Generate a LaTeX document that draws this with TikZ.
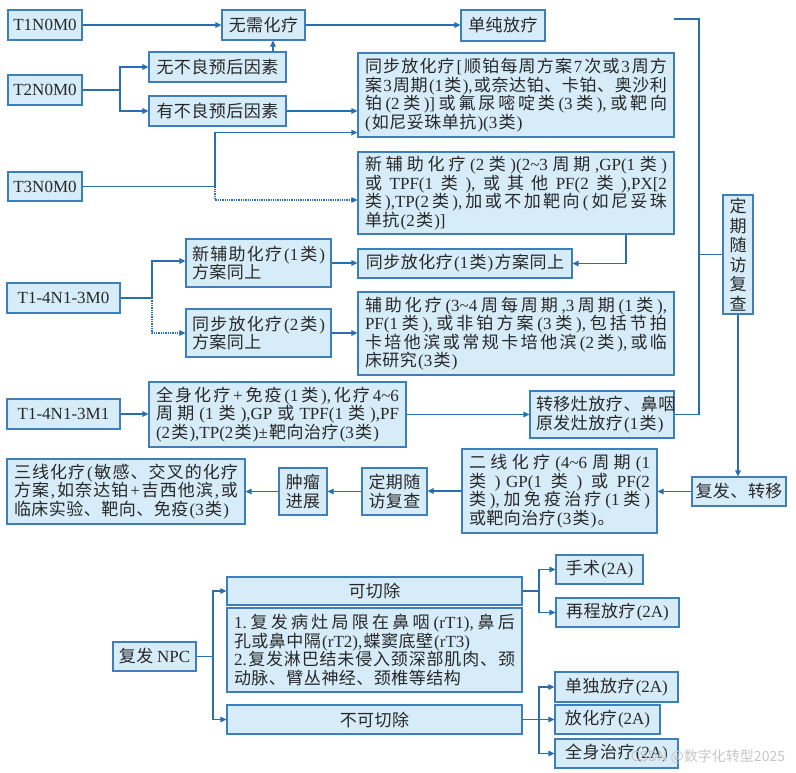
\documentclass[tikz,border=0pt]{standalone}
\usepackage{fontspec}
\setmainfont{Liberation Serif}
\newfontfamily\cjk{Noto Sans CJK SC}
\usetikzlibrary{arrows.meta,calc}
\definecolor{bfill}{RGB}{214,236,249}
\definecolor{bdraw}{RGB}{62,126,186}
\definecolor{lcol}{RGB}{40,110,176}
\definecolor{tcol}{RGB}{40,40,40}
\newXeTeXintercharclass\cjkclass
\newcount\cjkcnt
\newcommand\setcjkrange[2]{%
  \cjkcnt=#1\relax
  \loop
    \XeTeXcharclass\cjkcnt=\cjkclass
  \ifnum\cjkcnt<#2\relax
    \advance\cjkcnt by 1
  \repeat}
\setcjkrange{"4E00}{"9FFF}
\setcjkrange{"3000}{"303F}
\setcjkrange{"FF00}{"FFEF}
\XeTeXinterchartokenstate=1
\XeTeXinterchartoks \cjkclass \cjkclass = {\hskip0.5pt plus 3pt}
\XeTeXinterchartoks 0 \cjkclass = {\hskip1.2pt plus 3pt\cjk}
\XeTeXinterchartoks \cjkclass 0 = {\rmfamily\hskip1.2pt plus 3pt}
\XeTeXinterchartoks 4095 0 = {\rmfamily}
\XeTeXinterchartoks 4095 \cjkclass = {\cjk}
\newcommand\bxfont{\fontsize{17}{18.5}\selectfont\cjk}
\newcommand\vfont{\fontsize{17}{19.5}\selectfont\cjk}
\newcommand\jl[1]{\makebox[\hsize][s]{#1}}
\tikzset{
  box/.style 2 args={draw=bdraw, fill=bfill, line width=1.2pt, minimum width=#1, minimum height=#2, inner sep=0pt, text=tcol, font=\bxfont},
  ln/.style={draw=lcol, line width=1.3pt},
  arr/.style={ln, -{Triangle[length=6pt,width=5.5pt]}},
}
\begin{document}
\begin{tikzpicture}[x=1pt,y=-1pt]
\useasboundingbox (0,0) rectangle (796,773);
% top block
\node[box={74pt}{30pt}] (t1) at (45,25) {T1N0M0};
\node[box={83pt}{30pt}] (wx) at (263.5,25) {无需化疗};
\node[box={84pt}{31pt}] (dc) at (503,25.5) {单纯放疗};
\node[box={74pt}{30pt}] (t2) at (45,90) {T2N0M0};
\node[box={137pt}{30pt}] (wb) at (217.5,67) {无不良预后因素};
\node[box={137pt}{30pt}] (yb) at (217.5,111) {有不良预后因素};
\node[box={316pt}{84pt},text width=302pt,align=left] (tb) at (516,95) {\jl{同步放化疗[顺铂每周方案7次或3周方}\\\jl{案3周期(1类),或奈达铂、卡铂、奥沙利}\\\jl{铂(2类)]或氟尿嘧啶类(3类),或靶向}\\(如尼妥珠单抗)(3类)};
\node[box={74pt}{29pt}] (t3) at (45,186.5) {T3N0M0};
\node[box={316pt}{82pt},text width=302pt,align=left] (xf2) at (516,193) {\jl{新辅助化疗(2类)(2\textasciitilde3周期,GP(1类)}\\\jl{或TPF(1类),或其他PF(2类),PX[2}\\\jl{类),TP(2类),加或不加靶向(如尼妥珠}\\单抗(2类)]};
\node[box={145pt}{48pt},text width=133pt,align=left] (xf1) at (258.5,263) {\jl{新辅助化疗(1类)}\\方案同上};
\node[box={214pt}{29pt}] (tb1) at (465,263.5) {同步放化疗(1类)方案同上};
\node[box={113pt}{30pt}] (t4) at (63.5,298) {T1-4N1-3M0};
\node[box={145pt}{48pt},text width=133pt,align=left] (tb2) at (258.5,333) {\jl{同步放化疗(2类)}\\方案同上};
\node[box={316pt}{83pt},text width=302pt,align=left] (fz) at (516,333.5) {\jl{辅助化疗(3\textasciitilde4周每周期,3周期(1类),}\\\jl{PF(1类),或非铂方案(3类),包括节拍}\\\jl{卡培他滨或常规卡培他滨(2类),或临}\\床研究(3类)};
\node[box={113pt}{30pt}] (t5) at (63.5,414) {T1-4N1-3M1};
\node[box={257pt}{65pt},text width=243pt,align=left] (qs) at (277.5,414.5) {\jl{全身化疗+免疫(1类),化疗4\textasciitilde6}\\\jl{周期(1类),GP或TPF(1类),PF}\\(2类),TP(2类)±靶向治疗(3类)};
\node[box={144pt}{47pt},text width=132pt,align=left] (zy) at (602,414.5) {\jl{转移灶放疗、鼻咽}\\原发灶放疗(1类)};
\node[box={30pt}{119pt},align=center,font=\vfont] (dq) at (738,254.5) {定\\期\\随\\访\\复\\查};
\node[box={94pt}{29pt}] (ff) at (739,491.5) {复发、转移};
\node[box={195pt}{84pt},text width=181pt,align=left] (ex) at (559.5,491) {\jl{二线化疗(4\textasciitilde6周期(1}\\\jl{类) GP(1类)或PF(2}\\\jl{类),加免疫治疗(1类)}\\或靶向治疗(3类)。};
\node[box={65pt}{47pt},align=center] (dq2) at (394.5,491.5) {定期随\\访复查};
\node[box={48pt}{47pt},align=center] (zl) at (303,491.5) {肿瘤\\进展};
\node[box={238pt}{65pt},text width=224pt,align=left] (sx) at (126,491.5) {\jl{三线化疗(敏感、交叉的化疗}\\\jl{方案,如奈达铂+吉西他滨,或}\\临床实验、靶向、免疫(3类)};
% bottom block
\node[box={83pt}{29pt}] (npc) at (154.5,656.5) {复发 NPC};
\node[box={295pt}{28pt}] (kq) at (374.5,591) {可切除};
\node[box={295pt}{84pt},text width=281pt,align=left] (ms) at (374.5,650) {\jl{1.复发病灶局限在鼻咽(rT1),鼻后}\\孔或鼻中隔(rT2),蝶窦底壁(rT3)\\\jl{2.复发淋巴结未侵入颈深部肌肉、颈}\\动脉、臂丛神经、颈椎等结构};
\node[box={295pt}{29pt}] (bk) at (374.5,719.5) {不可切除};
\node[box={87pt}{29pt}] (ss) at (599.5,569.5) {手术(2A)};
\node[box={123pt}{29pt}] (zc) at (617.5,612.5) {再程放疗(2A)};
\node[box={123pt}{30pt}] (dd) at (616.5,687) {单独放疗(2A)};
\node[box={105pt}{29pt}] (fh) at (607.5,719.5) {放化疗(2A)};
\node[box={123pt}{29pt}] (qz) at (616.5,753.5) {全身治疗(2A)};
% helper coordinates
\coordinate (c1) at (273,0);
\coordinate (b2) at (120,90);
\coordinate (b3) at (215,186.5);
\coordinate (c2) at (626,0);
\coordinate (b4) at (152,298);
\coordinate (r0) at (674,19);
\coordinate (rv) at (699,0);
\coordinate (b5) at (213,656.5);
\coordinate (b6) at (539,591);
\coordinate (b7) at (539,719.5);
% connectors top
\draw[arr] (t1.east) -- (t1.east -| wx.west);
\draw[arr] (wx.east) -- (wx.east -| dc.west);
\draw[arr] (wb.north -| c1) -- (wx.south -| c1);
\draw[ln] (t2.east) -- (b2);
\draw[arr] (b2) |- (wb.west);
\draw[arr] (b2) |- (yb.west);
\draw[arr] (yb.east) -- (yb.east -| tb.west);
\draw[ln] (t3.east) -- (b3);
\draw[arr] (b3) |- ($(tb.south west)+(0,-5)$);
\draw[arr,densely dotted] (b3) |- ($(xf2.west)+(0,7)$);
\draw[arr] (xf2.south -| c2) |- (tb1.east);
\draw[ln] (t4.east) -- (b4);
\draw[arr] (b4) |- ($(xf1.west)+(0,-2)$);
\draw[arr,densely dotted] (b4) |- (tb2.west);
\draw[arr] (xf1.east) -- (xf1.east -| tb1.west);
\draw[arr] (tb2.east) -- (tb2.east -| fz.west);
\draw[arr] (t5.east) -- (t5.east -| qs.west);
\draw[arr] (qs.east) -- (qs.east -| zy.west);
% right collector
\draw[ln] (r0) -- (r0 -| rv) -- (rv |- zy.east) -- (zy.east);
\draw[ln] (rv |- dq.west) -- (dq.west);
\draw[arr] (dq.south) -- (dq.south |- ff.north);
\draw[arr] (ff.west) -- (ff.west -| ex.east);
\draw[arr] (ex.west) -- (ex.west -| dq2.east);
\draw[arr] (dq2.west) -- (dq2.west -| zl.east);
\draw[arr] (zl.west) -- (zl.west -| sx.east);
% bottom connectors
\draw[ln] (npc.east) -- (b5);
\draw[arr] (b5) |- (kq.west);
\draw[arr] (b5) |- (bk.west);
\draw[ln] (kq.east) -- (b6);
\draw[arr] (b6) |- (ss.west);
\draw[arr] (b6) |- (zc.west);
\draw[ln] (bk.east) -- (b7);
\draw[arr] (b7) |- (dd.west);
\draw[arr] (b7) -- (b7 -| fh.west);
\draw[arr] (b7) |- (qz.west);
% watermark
\node[text=gray!45, font=\fontsize{14}{14}\selectfont\cjk, inner sep=0pt] (wm) at (708,757) {\XeTeXinterchartokenstate=0 CSDN @数字化转型2025};
\end{tikzpicture}
\end{document}
